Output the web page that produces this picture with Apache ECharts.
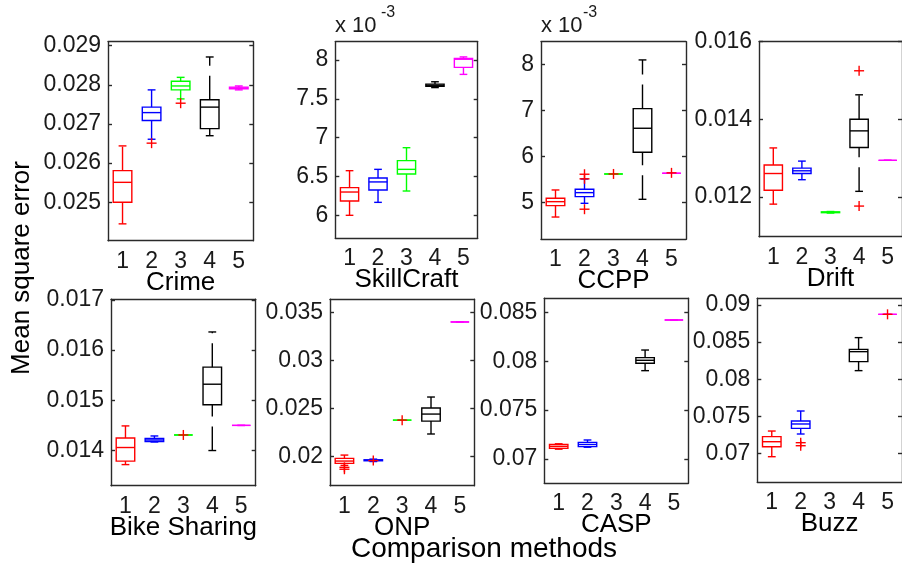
<!DOCTYPE html>
<html>
<head>
<meta charset="utf-8">
<script src="https://cdn.jsdelivr.net/npm/echarts@6/dist/echarts.min.js"></script>
<style>html,body{margin:0;padding:0;background:#fff}#c{width:902px;height:567px}</style>
</head>
<body>
<div id="c"></div>
<script>
// ---------------- data ----------------
const methods = ['1', '2', '3', '4', '5'];
const panelNames = ['Crime', 'SkillCraft', 'CCPP', 'Drift', 'Bike Sharing', 'ONP', 'CASP', 'Buzz'];

// each box: [whisker low, Q1, median, Q3, whisker high]; null = no box
const crimeBoxes = [
  [0.02445, 0.0250, 0.02551, 0.02581, 0.02644],
  [0.02661, 0.02709, 0.02729, 0.02743, 0.02787],
  [0.02764, 0.02787, 0.02797, 0.02809, 0.02819],
  [0.0267, 0.02688, 0.02743, 0.02762, 0.02871],
  [0.02787, 0.0279, 0.02792, 0.02794, 0.02797]
];
// SkillCraft and CCPP values are in units of 10^-3 (as on their axes)
const skillCraftBoxes = [
  [6.0, 6.185, 6.30, 6.356, 6.575],
  [6.167, 6.326, 6.43, 6.48, 6.592],
  [6.313, 6.532, 6.592, 6.704, 6.871],
  [7.645, 7.66, 7.675, 7.69, 7.72],
  [7.815, 7.905, 8.01, 8.02, 8.04]
];
const ccppBoxes = [
  [4.68, 4.928, 5.014, 5.087, 5.268],
  [4.978, 5.123, 5.21, 5.283, 5.507],
  [5.616, 5.616, 5.616, 5.616, 5.616],
  [5.065, 6.087, 6.609, 7.036, 8.094],
  [5.63, 5.63, 5.63, 5.63, 5.63]
];
const driftBoxes = [
  [0.01181, 0.01217, 0.0126, 0.01282, 0.01326],
  [0.01244, 0.0126, 0.01267, 0.01274, 0.01292],
  [0.01158, 0.01159, 0.0116, 0.01161, 0.01162],
  [0.01214, 0.01327, 0.0137, 0.0140, 0.01463],
  [0.01294, 0.01294, 0.01294, 0.01294, 0.01294]
];
const bikeBoxes = [
  [0.01372, 0.01379, 0.01406, 0.01425, 0.01449],
  [0.01417, 0.01418, 0.01421, 0.01424, 0.01429],
  [0.01431, 0.01431, 0.01431, 0.01431, 0.01431],
  [0.0140, 0.01491, 0.01532, 0.01566, 0.01636],
  [0.0145, 0.0145, 0.0145, 0.0145, 0.0145]
];
const onpBoxes = [
  [0.0191, 0.01931, 0.01955, 0.01983, 0.02017],
  [0.0195, 0.01958, 0.01963, 0.01968, 0.01975],
  [0.0238, 0.0238, 0.0238, 0.0238, 0.0238],
  [0.02236, 0.0237, 0.02443, 0.02506, 0.0262],
  [0.034, 0.034, 0.034, 0.034, 0.034]
];
const caspBoxes = [
  [0.0710, 0.07108, 0.07128, 0.07148, 0.07155],
  [0.0712, 0.07126, 0.07148, 0.0717, 0.07194],
  null,
  [0.07903, 0.07978, 0.08009, 0.08036, 0.08114],
  [0.08421, 0.08421, 0.08421, 0.08421, 0.08421]
];
const buzzBoxes = [
  [0.06955, 0.0709, 0.07157, 0.07225, 0.07301],
  [0.07261, 0.07337, 0.07396, 0.07436, 0.07571],
  null,
  [0.08115, 0.08236, 0.08371, 0.08402, 0.0856],
  [0.08874, 0.08874, 0.08874, 0.08874, 0.08874]
];

// outliers: [method index (0-based), value]
const crimeOutliers = [[1, 0.02651], [2, 0.02753]];
const skillCraftOutliers = [];
const ccppOutliers = [[1, 5.61], [1, 5.51], [1, 4.85], [2, 5.616], [4, 5.64]];
const driftOutliers = [[3, 0.01525], [3, 0.01176]];
const bikeOutliers = [[2, 0.01431]];
const onpOutliers = [[0, 0.0189], [0, 0.0187], [1, 0.0196], [2, 0.0238]];
const caspOutliers = [];
const buzzOutliers = [[1, 0.07144], [1, 0.07103], [4, 0.08874]];

// y-axis ranges and tick labels
const crimeRange = [0.02402, 0.0291];
const skillCraftRange = [5.704, 8.236];
const ccppRange = [4.196, 8.49];
const driftRange = [0.01097, 0.0160];
const bikeRange = [0.0133, 0.01701];
const onpRange = [0.01699, 0.03635];
const caspRange = [0.06751, 0.08643];
const buzzRange = [0.0661, 0.0909];

const crimeTicks = [0.025, 0.026, 0.027, 0.028, 0.029];
const skillCraftTicks = [6, 6.5, 7, 7.5, 8];
const ccppTicks = [5, 6, 7, 8];
const driftTicks = [0.012, 0.014, 0.016];
const bikeTicks = [0.014, 0.015, 0.016, 0.017];
const onpTicks = [0.02, 0.025, 0.03, 0.035];
const caspTicks = [0.07, 0.075, 0.08, 0.085];
const buzzTicks = [0.07, 0.075, 0.08, 0.085, 0.09];

// ---------------- layout & style ----------------
const methodColors = ['#ff0000', '#0000ff', '#00ff00', '#000000', '#ff00ff'];
const outlierColor = '#ff0000';
const FONT = '"Liberation Sans", Arial, sans-serif';
const TEXT = '#1a1a1a';
const AXIS = '#2a2a2a';

const gridRects = [
  [108, 41.7, 145.3, 199],
  [335.3, 41.7, 142.4, 196.6],
  [541, 41.7, 145, 197.6],
  [759, 41.7, 147.5, 195],
  [111, 299.3, 144.7, 186.4],
  [330, 299.3, 144.3, 186.4],
  [544.3, 298.3, 144, 185],
  [757.3, 298.3, 148, 184]
];

const boxesByPanel = [crimeBoxes, skillCraftBoxes, ccppBoxes, driftBoxes, bikeBoxes, onpBoxes, caspBoxes, buzzBoxes];
const outliersByPanel = [crimeOutliers, skillCraftOutliers, ccppOutliers, driftOutliers, bikeOutliers, onpOutliers, caspOutliers, buzzOutliers];
const rangesByPanel = [crimeRange, skillCraftRange, ccppRange, driftRange, bikeRange, onpRange, caspRange, buzzRange];
const ticksByPanel = [crimeTicks, skillCraftTicks, ccppTicks, driftTicks, bikeTicks, onpTicks, caspTicks, buzzTicks];

function renderBox(params, api) {
  const k = api.value(0);
  const color = methodColors[k];
  const band = api.size([1, 0])[0];
  const bw = band * 0.64, cw = band * 0.27;
  const pLo = api.coord([k, api.value(1)]);
  const pQ1 = api.coord([k, api.value(2)]);
  const pMed = api.coord([k, api.value(3)]);
  const pQ3 = api.coord([k, api.value(4)]);
  const pHi = api.coord([k, api.value(5)]);
  const cx = pMed[0];
  const st = { stroke: color, lineWidth: 1.4, fill: null };
  const dash = { stroke: color, lineWidth: 1.4, lineDash: [24, 10] };
  return {
    type: 'group',
    children: [
      { type: 'line', shape: { x1: cx, y1: pLo[1], x2: cx, y2: pQ1[1] }, style: dash },
      { type: 'line', shape: { x1: cx, y1: pQ3[1], x2: cx, y2: pHi[1] }, style: dash },
      { type: 'line', shape: { x1: cx - cw / 2, y1: pLo[1], x2: cx + cw / 2, y2: pLo[1] }, style: st },
      { type: 'line', shape: { x1: cx - cw / 2, y1: pHi[1], x2: cx + cw / 2, y2: pHi[1] }, style: st },
      { type: 'polygon', shape: { points: [[cx - bw / 2, pQ3[1]], [cx + bw / 2, pQ3[1]], [cx + bw / 2, pQ1[1]], [cx - bw / 2, pQ1[1]]] }, style: st },
      { type: 'line', shape: { x1: cx - bw / 2, y1: pMed[1], x2: cx + bw / 2, y2: pMed[1] }, style: st }
    ]
  };
}

function renderOutlier(params, api) {
  const p = api.coord([api.value(0), api.value(1)]);
  const s = 5;
  const st = { stroke: outlierColor, lineWidth: 1.4 };
  return {
    type: 'group',
    children: [
      { type: 'line', shape: { x1: p[0] - s, y1: p[1], x2: p[0] + s, y2: p[1] }, style: st },
      { type: 'line', shape: { x1: p[0], y1: p[1] - s, x2: p[0], y2: p[1] + s }, style: st }
    ]
  };
}

const lineStyle = { color: AXIS, width: 1.4 };
const grids = [], xAxes = [], yAxes = [], series = [];
panelNames.forEach((name, i) => {
  const [l, t, w, h] = gridRects[i];
  grids.push({ left: l, top: t, width: w, height: h, containLabel: false });
  xAxes.push({
    gridIndex: i, type: 'category', data: methods, position: 'bottom', boundaryGap: true,
    axisLine: { onZero: false, lineStyle },
    axisTick: { inside: true, alignWithLabel: true, length: 4, lineStyle },
    axisLabel: { margin: 9, fontSize: 23, fontFamily: FONT, color: TEXT, interval: 0 },
    splitLine: { show: false },
    name, nameLocation: 'middle', nameGap: 29, nameMoveOverlap: false,
    nameTextStyle: { fontSize: 26, fontFamily: FONT, color: '#000' }
  });
  xAxes.push({
    gridIndex: i, type: 'category', data: methods, position: 'top', boundaryGap: true,
    axisLine: { onZero: false, lineStyle },
    axisTick: { inside: true, alignWithLabel: true, length: 4, lineStyle },
    axisLabel: { show: false }, splitLine: { show: false }
  });
  const [mn, mx] = rangesByPanel[i];
  const ticks = ticksByPanel[i];
  yAxes.push({
    gridIndex: i, type: 'value', position: 'left', min: mn, max: mx, scale: true,
    axisLine: { show: true, onZero: false, lineStyle },
    axisTick: { show: true, inside: true, length: 4, lineStyle, customValues: ticks },
    axisLabel: { customValues: ticks, formatter: v => String(v), margin: 7, fontSize: 23, fontFamily: FONT, color: TEXT },
    splitLine: { show: false }
  });
  yAxes.push({
    gridIndex: i, type: 'value', position: 'right', min: mn, max: mx, scale: true,
    axisLine: { show: true, onZero: false, lineStyle },
    axisTick: { show: true, inside: true, length: 4, lineStyle, customValues: ticks },
    axisLabel: { show: false }, splitLine: { show: false }
  });
  const boxData = [];
  boxesByPanel[i].forEach((b, k) => { if (b) boxData.push([k].concat(b)); });
  series.push({
    type: 'custom', xAxisIndex: 2 * i, yAxisIndex: 2 * i, data: boxData,
    encode: { x: 0, y: [1, 2, 3, 4, 5] }, renderItem: renderBox, silent: true, clip: false
  });
  series.push({
    type: 'custom', xAxisIndex: 2 * i, yAxisIndex: 2 * i, data: outliersByPanel[i],
    encode: { x: 0, y: 1 }, renderItem: renderOutlier, silent: true, clip: false
  });
});

const chart = echarts.init(document.getElementById('c'), null, { renderer: 'canvas' });
chart.setOption({
  backgroundColor: '#ffffff',
  animation: false,
  grid: grids, xAxis: xAxes, yAxis: yAxes, series,
  graphic: [
    { type: 'text', x: 22, y: 268, rotation: Math.PI / 2,
      style: { text: 'Mean square error', font: '26px "Liberation Sans", Arial, sans-serif', fill: '#000', textAlign: 'center', textVerticalAlign: 'middle' } },
    { type: 'text', x: 484, y: 549,
      style: { text: 'Comparison methods', font: '28px "Liberation Sans", Arial, sans-serif', fill: '#000', textAlign: 'center', textVerticalAlign: 'middle' } },
    { type: 'text', x: 335, y: 26,
      style: { text: 'x 10', font: '22px "Liberation Sans", Arial, sans-serif', fill: TEXT, textAlign: 'left', textVerticalAlign: 'middle' } },
    { type: 'text', x: 381, y: 13,
      style: { text: '-3', font: '16px "Liberation Sans", Arial, sans-serif', fill: TEXT, textAlign: 'left', textVerticalAlign: 'middle' } },
    { type: 'text', x: 541, y: 26,
      style: { text: 'x 10', font: '22px "Liberation Sans", Arial, sans-serif', fill: TEXT, textAlign: 'left', textVerticalAlign: 'middle' } },
    { type: 'text', x: 583, y: 13,
      style: { text: '-3', font: '16px "Liberation Sans", Arial, sans-serif', fill: TEXT, textAlign: 'left', textVerticalAlign: 'middle' } }
  ]
});
</script>
</body>
</html>
